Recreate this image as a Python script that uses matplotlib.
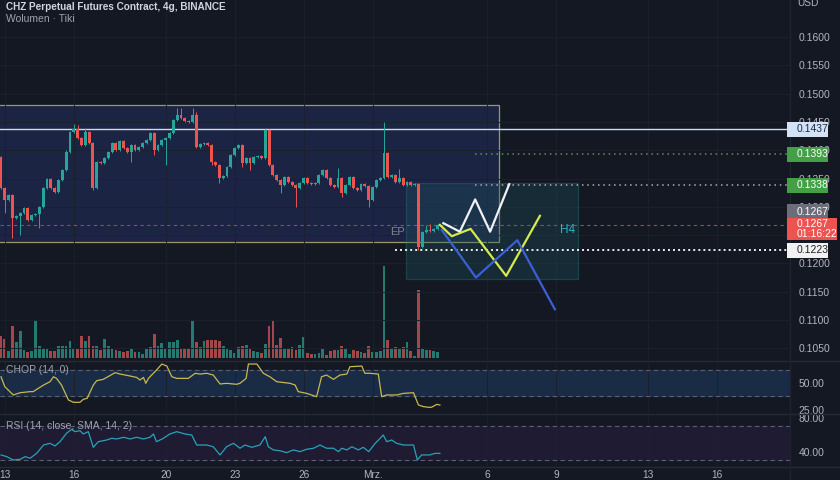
import matplotlib
matplotlib.use("Agg")
import matplotlib.pyplot as plt
from matplotlib.patches import Rectangle
import numpy as np

plt.rcParams['font.family'] = ['Liberation Sans', 'DejaVu Sans']

# --- Kerzen (4h), Index 0 = erste sichtbare Kerze ---
first_open = 0.1388
closes = [0.1333, 0.1312, 0.1321, 0.1280, 0.1284, 0.1289, 0.1298, 0.1277, 0.1285, 0.1287,
          0.1300, 0.1333, 0.1349, 0.1333, 0.1326, 0.1347, 0.1365, 0.1397, 0.1432, 0.1437,
          0.1422, 0.1409, 0.1432, 0.1413, 0.1333, 0.1379, 0.1377, 0.1386, 0.1397, 0.1413,
          0.1400, 0.1416, 0.1404, 0.1397, 0.1409, 0.1400, 0.1406, 0.1413, 0.1418, 0.1430,
          0.1400, 0.1409, 0.1418, 0.1422, 0.1430, 0.1453, 0.1462, 0.1457, 0.1452, 0.1450,
          0.1462, 0.1406, 0.1411, 0.1413, 0.1409, 0.1379, 0.1374, 0.1351, 0.1354, 0.1370,
          0.1392, 0.1404, 0.1409, 0.1377, 0.1386, 0.1377, 0.1388, 0.1390, 0.1386, 0.1436,
          0.1374, 0.1356, 0.1347, 0.1338, 0.1353, 0.1344, 0.1338, 0.1333, 0.1342, 0.1351,
          0.1342, 0.1340, 0.1342, 0.1356, 0.1365, 0.1351, 0.1338, 0.1335, 0.1351, 0.1324,
          0.1338, 0.1353, 0.1333, 0.1330, 0.1340, 0.1337, 0.1312, 0.1335, 0.1347, 0.1351,
          0.1395, 0.1353, 0.1356, 0.1344, 0.1351, 0.1338, 0.1344, 0.1338, 0.1340, 0.1229,
          0.1255, 0.1259, 0.1257, 0.1261, 0.1267]
# auffaellige Dochte
wick_high = {17: 0.1400, 19: 0.1446, 20: 0.1445, 22: 0.1440, 46: 0.1475, 47: 0.1475,
             50: 0.1475, 51: 0.1467, 69: 0.1439, 88: 0.1368, 100: 0.1450, 104: 0.1367,
             111: 0.1268, 112: 0.1270}
wick_low = {1: 0.1289, 3: 0.1245, 5: 0.1250, 10: 0.1262, 24: 0.1330, 34: 0.1379,
            40: 0.1392, 43: 0.1374, 55: 0.1374, 57: 0.1342, 63: 0.1370, 65: 0.1365,
            73: 0.1324, 77: 0.1300, 89: 0.1317, 96: 0.1300, 109: 0.1224}

volumes = [22, 19, 7, 32, 16, 27, 8, 6, 7, 38, 12, 10, 9, 7, 7, 12, 12, 12, 17, 10,
           9, 22, 17, 22, 12, 12, 8, 19, 12, 10, 8, 7, 6, 7, 9, 6, 6, 4,
           9, 11, 24, 12, 15, 9, 16, 16, 18, 10, 10, 10, 38, 16, 11, 17, 18, 18, 18, 17,
           12, 9, 8, 5, 11, 12, 13, 10, 7, 6, 5, 14, 32, 37, 13, 20, 10, 9, 11, 8,
           13, 21, 5, 4, 4, 5, 9, 3, 7, 8, 8, 12, 9, 4, 8, 7, 6, 5, 12, 6, 6, 7,
           92, 18, 10, 11, 10, 11, 16, 7, 2, 68, 9, 8, 8, 7, 6]

# Indikatoren (Stuetzpunkte: Kerzenindex, Wert)
chop_idx = [0, 1.0, 3.2, 5.0, 7.6, 8.4, 11.1, 12.8, 13.7, 14.5, 15.8, 17.6, 18.9, 20.6, 21.5,
            22.5, 24.1, 25.0, 26.7, 28.5, 29.8, 31.1, 33.7, 35.4, 36.3, 37.2, 37.8, 38.5,
            40.6, 42.0, 43.3, 44.6, 45.9, 48.9, 50.7, 52.0, 53.7, 55.4, 57.2, 58.9, 61.5,
            62.4, 64.0, 64.6, 66.8, 68.5, 70.2, 72.0, 75.5, 76.8, 77.6, 79.8, 82.4, 83.7,
            85.0, 86.8, 88.5, 90.3, 91.1, 94.2, 95.0, 96.3, 98.5, 99.4, 100.7, 103.3,
            105.1, 107.7, 109.0, 110.3, 111.6, 112.4, 113.8, 114.6]
chop_val = [55.8, 46.6, 38.9, 41.0, 42.0, 42.0, 48.1, 51.2, 55.8, 54.3, 48.1, 34.3, 32.1,
            32.1, 34.9, 35.8, 48.1, 52.2, 53.4, 57.0, 59.6, 58.3, 56.5, 55.2, 52.8, 55.2,
            49.7, 54.3, 62.0, 67.6, 65.7, 55.8, 54.3, 54.3, 59.0, 58.3, 59.0, 57.4, 49.1,
            49.7, 48.8, 49.7, 54.3, 67.6, 67.6, 59.0, 55.8, 51.2, 49.7, 48.1, 42.0, 40.4,
            37.3, 55.8, 57.4, 53.4, 57.4, 58.3, 65.1, 65.7, 59.0, 59.0, 58.3, 37.3, 38.9,
            38.9, 40.4, 41.0, 29.6, 28.1, 27.5, 27.5, 30.2, 29.6]
rsi_idx = [0, 1.5, 3.2, 5.0, 6.3, 7.6, 9.3, 11.1, 12.8, 14.1, 15.4, 17.1, 18.5, 19.3, 20.6,
           21.5, 22.8, 24.1, 25.4, 27.6, 28.9, 30.2, 32.0, 33.7, 35.4, 37.2, 38.9, 39.8,
           40.6, 42.4, 44.1, 45.9, 48.0, 49.8, 51.1, 53.7, 55.4, 57.2, 58.9, 60.7, 62.4,
           63.7, 65.5, 67.6, 69.0, 69.8, 71.1, 72.8, 74.6, 76.3, 78.1, 79.8, 81.6, 83.3,
           85.0, 86.8, 88.1, 89.0, 90.3, 91.6, 93.3, 94.6, 96.0, 97.7, 99.0, 99.8, 100.7,
           102.0, 103.3, 105.1, 107.7, 108.7, 109.8, 112.0, 113.3, 114.6]
rsi_val = [36.5, 34.5, 30.6, 31.4, 34.5, 32.6, 38.4, 48.2, 50.2, 47.1, 52.1, 62.0, 66.7,
           63.9, 65.1, 61.2, 63.9, 45.5, 52.1, 54.1, 56.1, 55.3, 57.3, 55.3, 57.3, 55.3,
           57.3, 61.2, 52.1, 56.1, 61.2, 63.9, 61.2, 60.0, 48.2, 48.2, 46.2, 36.5, 46.2,
           50.2, 44.4, 48.2, 45.5, 48.2, 58.0, 46.2, 42.4, 41.5, 39.2, 42.4, 40.4, 43.2,
           44.4, 48.2, 44.4, 44.4, 40.4, 44.4, 42.4, 46.2, 42.4, 45.5, 40.4, 50.2, 56.1,
           60.0, 52.1, 54.1, 50.2, 48.2, 48.2, 30.6, 36.5, 36.5, 38.4, 38.4]

# Zeichnungen
range_box = (-1, 129.9, 0.1238, 0.1480)      # x0, x1, unten, oben
h4_box = (105.7, 150.7, 0.1172, 0.1342)
resistance = 0.1437
last_price = 0.1267
level_tp1, level_tp2, level_sl = 0.1393, 0.1338, 0.1223
white_x = [115.5, 119.8, 123.8, 127.7, 132.7]
white_y = [0.1271, 0.1256, 0.1313, 0.1256, 0.1340]
yellow_x = [114.6, 117.7, 122.6, 131.9, 140.7]
yellow_y = [0.1268, 0.1248, 0.1261, 0.1178, 0.1284]
blue_x = [115.1, 124.0, 134.8, 144.6]
blue_y = [0.1259, 0.1175, 0.1241, 0.1119]

tick_idx = [1, 19, 43, 61, 79, 97, 127, 145, 169, 187]
tick_labels = ["13", "16", "20", "23", "26", "Mrz.", "6", "9", "13", "16"]

BG = "#141823"
GREEN, RED = "#26a69a", "#ef5350"
TXT = "#b2b5be"

fig = plt.figure(figsize=(8.4, 4.8), dpi=100, facecolor=BG)
W = 790 / 840
ax = fig.add_axes([0, 1 - 360 / 480, W, 360 / 480])
axv = ax.twinx()
axc = fig.add_axes([0, 1 - 413 / 480, W, 52 / 480], sharex=ax)
axr = fig.add_axes([0, 1 - 466 / 480, W, 52 / 480], sharex=ax)
ax.set_zorder(axv.get_zorder() + 1)
ax.patch.set_visible(False)
for a in (ax, axv, axc, axr):
    a.set_facecolor(BG)
    for s in a.spines.values():
        s.set_visible(False)

idx = np.arange(len(closes))
c = np.array(closes)
o = np.r_[first_open, c[:-1]]
up = c >= o
cols = np.where(up, GREEN, RED)
hi = np.maximum(o, c) + 0.0002
lo = np.minimum(o, c) - 0.0002
for k, v in wick_high.items():
    hi[k] = v
for k, v in wick_low.items():
    lo[k] = v

ax.vlines(idx, lo, hi, colors=cols, lw=0.7, zorder=4)
ax.bar(idx, np.maximum(np.abs(c - o), 0.00008), bottom=np.minimum(o, c),
       width=0.75, color=cols, zorder=4, linewidth=0)

axv.bar(idx, volumes, width=0.72, color=np.where(up, "#227a70", "#a3474a"), linewidth=0)
axv.set_ylim(-2, 358)
axv.set_yticks([])

# Range-Box und H4-Zone
x0, x1, b, t = range_box
ax.add_patch(Rectangle((x0, b), x1 - x0, t - b, fc="#1b2442", ec="#9a9868", lw=0.9, zorder=1))
x0, x1, b, t = h4_box
ax.add_patch(Rectangle((x0, b), x1 - x0, t - b, fc="#1e5a66", alpha=0.3, ec="#2b8a90",
                       lw=0.9, zorder=2))

ax.axhline(resistance, color="#cfdcef", lw=1.0, zorder=3)
ax.axhline(last_price, color="#a5474f", lw=0.8, ls=(0, (3, 3)), zorder=3)
ax.hlines(level_tp1, 123.8, 206, colors="#4f9a55", lw=1.1, ls=(0, (1, 2.5)), zorder=3)
ax.hlines(level_tp2, 123.8, 206, colors="#a8adb5", lw=1.1, ls=(0, (1, 2.5)), zorder=3)
ax.hlines(level_sl, 103, 206, colors="#eeeeee", lw=1.4, ls=(0, (1, 1.6)), zorder=3)

ax.plot(white_x, white_y, color="#f0f0f5", lw=1.6, zorder=5)
ax.plot(yellow_x, yellow_y, color="#d6ea4c", lw=1.6, zorder=5)
ax.plot(blue_x, blue_y, color="#3b5fd6", lw=1.6, zorder=5)

ax.text(103.4, 0.1255, "EP", color="#7d8394", fontsize=8, ha="center", va="center", zorder=5)
ax.text(147.8, 0.1259, "H4", color="#2bb3be", fontsize=8.5, ha="center", va="center", zorder=5)

ax.set_xlim(-0.26, 206.0)
ax.set_ylim(0.10293, 0.16654)
ax.yaxis.tick_right()
ax.set_yticks(np.arange(0.105, 0.1601, 0.005))
ax.set_yticklabels([f"{v:.4f}" for v in np.arange(0.105, 0.1601, 0.005)])
ax.tick_params(axis="y", length=0, pad=6, labelcolor=TXT, labelsize=7.5)
ax.tick_params(axis="x", length=0, labelbottom=False)
ax.set_xticks(tick_idx)
ax.grid(color="#1c202c", lw=0.7, zorder=0)

# Preis-Tags rechts (Kasten in Pixeln der Figur, Hoehe ueber den Preis)
def tag(price, text, fc, tc, dy_px=0, w_px=41, h_px=15):
    yfig = fig.transFigure.inverted().transform(ax.transData.transform((0, price)))[1]
    yc = yfig + dy_px / 480
    fig.add_artist(Rectangle((787 / 840, yc - h_px / 2 / 480), w_px / 840, h_px / 480,
                             transform=fig.transFigure, fc=fc, ec="none", zorder=10))
    fig.text(797 / 840, yc, text, color=tc, fontsize=7.5, va="center", ha="left",
             zorder=11, linespacing=1.1)

tag(resistance, "0.1437", "#d3e2f4", "#1f2a44")
tag(level_tp1, "0.1393", "#43a047", "white")
tag(level_tp2, "0.1338", "#43a047", "white")
tag(last_price, "0.1267", "#6b6e79", "white", dy_px=13.5)
tag(last_price, "0.1267\n01:16:22", "#ef5350", "white", dy_px=-3.5, w_px=50, h_px=22)
tag(level_sl, "0.1223", "#f2f2f2", "#222222")

# CHOP
axc.axhspan(38.2, 61.8, color="#1a2b45", zorder=0)
for lvl in (61.8, 38.2):
    axc.axhline(lvl, color="#5a6070", lw=0.8, ls=(0, (4, 3)))
axc.plot(chop_idx, chop_val, color="#c9b84e", lw=0.9)
axc.set_ylim(22.2, 70.4)
axc.yaxis.tick_right()
axc.set_yticks([50, 25])
axc.set_yticklabels(["50.00", "25.00"])
axc.tick_params(axis="y", length=0, pad=6, labelcolor=TXT, labelsize=7.5)
axc.tick_params(axis="x", length=0, labelbottom=False)
axc.grid(axis="x", color="#1c202c", lw=0.7)
axc.text(0.007, 61.8, "CHOP (14, 0)", color="#9ea3ad", fontsize=7.5, va="center",
         transform=axc.get_yaxis_transform())

# RSI
axr.axhspan(30, 70, color="#1e1b33", zorder=0)
for lvl in (70, 30):
    axr.axhline(lvl, color="#5a6070", lw=0.8, ls=(0, (4, 3)))
axr.plot(rsi_idx, rsi_val, color="#28a3b6", lw=0.9)
axr.set_ylim(23.5, 84.7)
axr.yaxis.tick_right()
axr.set_yticks([80, 40])
axr.set_yticklabels(["80.00", "40.00"])
axr.tick_params(axis="y", length=0, pad=6, labelcolor=TXT, labelsize=7.5)
axr.set_xticks(tick_idx)
axr.set_xticklabels(tick_labels)
axr.tick_params(axis="x", length=0, pad=3, labelcolor=TXT, labelsize=7.3)
axr.grid(axis="x", color="#1c202c", lw=0.7)
axr.text(0.007, 70, "RSI (14, close, SMA, 14, 2)", color="#9ea3ad", fontsize=7.5, va="center",
         transform=axr.get_yaxis_transform())

# Trennlinien der Panels
for ypx in (360.5, 413.5, 466.5):
    fig.add_artist(plt.Line2D([0, 1], [1 - ypx / 480] * 2, color="#262a35", lw=1))
fig.add_artist(plt.Line2D([W, W], [0, 1], color="#1f232e", lw=1))

fig.text(6 / 840, 1 - 7 / 480, "CHZ Perpetual Futures Contract, 4g, BINANCE",
         color="#d1d4dc", fontsize=7.2, fontweight="bold", va="center")
fig.text(6 / 840, 1 - 18.5 / 480, "Wolumen · Tiki", color="#9ea3ad", fontsize=7.5, va="center")
fig.text(797 / 840, 1 - 3 / 480, "USD", color=TXT, fontsize=7.3, va="center")

fig.savefig("out.png", dpi=100, facecolor=BG)
